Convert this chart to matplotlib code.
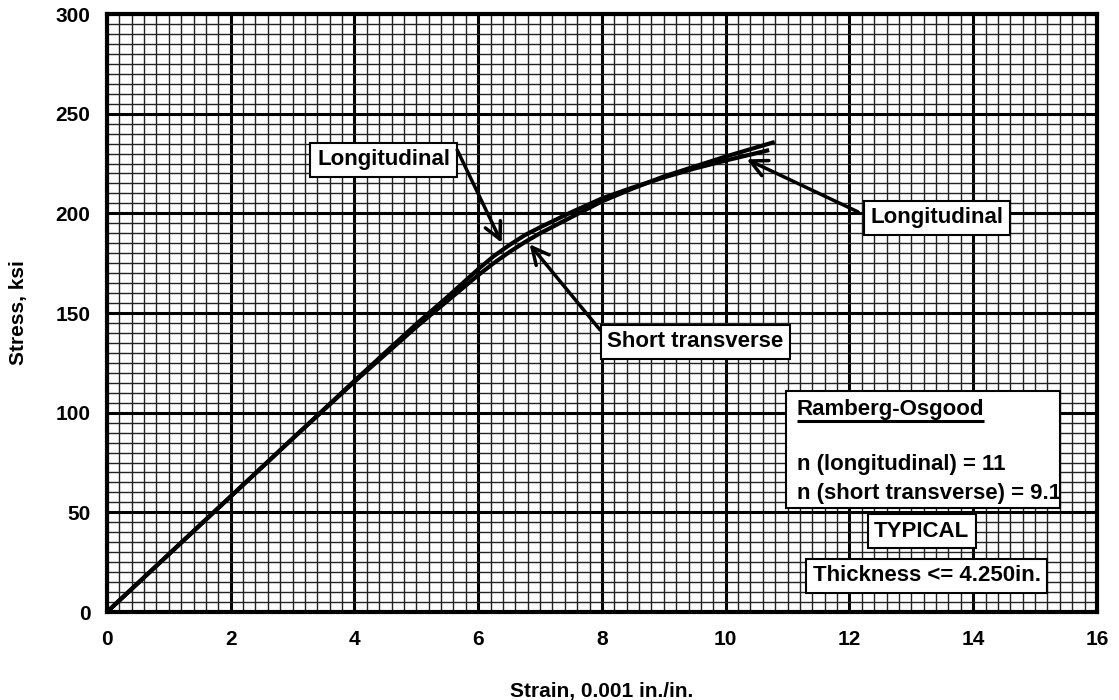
import numpy as np
import matplotlib
matplotlib.use("Agg")
import matplotlib.pyplot as plt
from matplotlib.patches import Rectangle

plt.rcParams['font.family'] = ['Liberation Sans', 'DejaVu Sans']
plt.rcParams['font.weight'] = 'bold'

# strain in 0.001 in./in., stress in ksi
strain_long = [0, 1, 2, 3, 4, 5, 5.5, 6, 6.25, 6.5, 6.75, 7, 7.5, 8, 8.5, 9, 9.5, 10, 10.67]
stress_long = [0, 29, 58, 87, 116, 144.5, 158, 172, 178.5, 184, 189, 193, 200.5, 207.5, 213, 218, 222.5, 226.5, 231.5]

strain_st = [0, 1, 2, 3, 4, 5, 5.5, 6, 6.25, 6.5, 6.75, 7, 7.5, 8, 8.5, 9, 9.5, 10, 10.76]
stress_st = [0, 29, 58, 87, 115.5, 143, 156, 169, 175, 180.5, 185.5, 190, 198, 206, 212.5, 218.5, 223.5, 228.5, 235.5]

x_ticks = [0, 2, 4, 6, 8, 10, 12, 14, 16]
y_ticks = [0, 50, 100, 150, 200, 250, 300]

fig = plt.figure(figsize=(11.19, 7.0), dpi=100)
ax = fig.add_axes([0.0956, 0.1257, 0.8847, 0.8543])

ax.set_xlim(0, 16)
ax.set_ylim(0, 300)
ax.set_xticks(x_ticks)
ax.set_yticks(y_ticks)
ax.set_xticks(np.arange(0, 16.01, 0.2), minor=True)
ax.set_yticks(np.arange(0, 300.1, 5), minor=True)
ax.tick_params(which='both', length=0)
ax.tick_params(axis='x', pad=13, labelsize=15)
ax.tick_params(axis='y', pad=12, labelsize=15)
for lab in ax.get_xticklabels() + ax.get_yticklabels():
    lab.set_fontweight('bold')

ax.grid(which='minor', color='#222222', lw=1.0)
ax.grid(which='major', color='black', lw=2.2)
ax.set_axisbelow(True)
for sp in ax.spines.values():
    sp.set_linewidth(3)
    sp.set_zorder(5)

ax.plot(strain_long, stress_long, color='black', lw=3, zorder=3, solid_joinstyle='round')
ax.plot(strain_st, stress_st, color='black', lw=3, zorder=3, solid_joinstyle='round')

ax.set_xlabel('Strain, 0.001 in./in.', fontsize=15, fontweight='bold', labelpad=24)
ax.set_ylabel('Stress, ksi', fontsize=15, fontweight='bold', labelpad=20)

box = dict(boxstyle='square,pad=0.3', fc='white', ec='black', lw=1.5)
fs = 16
arw = dict(arrowstyle='->', lw=2.5, color='black', mutation_scale=30, shrinkA=0, shrinkB=0)

# labels with arrows
ax.text(4.47, 226.8, 'Longitudinal', fontsize=fs, fontweight='bold', ha='center', va='center', bbox=box, zorder=6)
ax.annotate('', xy=(6.38, 185.2), xytext=(5.66, 231.8), arrowprops=arw, zorder=6)

ax.text(9.51, 135.5, 'Short transverse', fontsize=fs, fontweight='bold', ha='center', va='center', bbox=box, zorder=6)
ax.annotate('', xy=(6.83, 184.5), xytext=(7.97, 141.5), arrowprops=arw, zorder=6)

ax.text(13.41, 197.7, 'Longitudinal', fontsize=fs, fontweight='bold', ha='center', va='center', bbox=box, zorder=6)
ax.annotate('', xy=(10.34, 227.1), xytext=(12.14, 200.7), arrowprops=arw, zorder=6)

# Ramberg-Osgood box
ax.add_patch(Rectangle((10.97, 52.2), 4.43, 58.7, fc='white', ec='black', lw=1.5, zorder=6))
t_ro = ax.text(11.15, 101.4, 'Ramberg-Osgood', fontsize=fs, fontweight='bold', ha='left', va='center', zorder=7)
ax.text(11.15, 73.8, 'n (longitudinal) = 11', fontsize=fs, fontweight='bold', ha='left', va='center', zorder=7)
ax.text(11.15, 59.7, 'n (short transverse) = 9.1', fontsize=fs, fontweight='bold', ha='left', va='center', zorder=7)

fig.canvas.draw()
bb = t_ro.get_window_extent().transformed(ax.transData.inverted())
ax.plot([bb.x0, bb.x1], [95.8, 95.8], color='black', lw=2.2, zorder=7, solid_capstyle='butt')

ax.text(13.17, 40.6, 'TYPICAL', fontsize=fs, fontweight='bold', ha='center', va='center', bbox=box, zorder=6)
ax.text(13.25, 18.1, 'Thickness <= 4.250in.', fontsize=fs, fontweight='bold', ha='center', va='center', bbox=box, zorder=6)

fig.savefig('out.png', dpi=100)
